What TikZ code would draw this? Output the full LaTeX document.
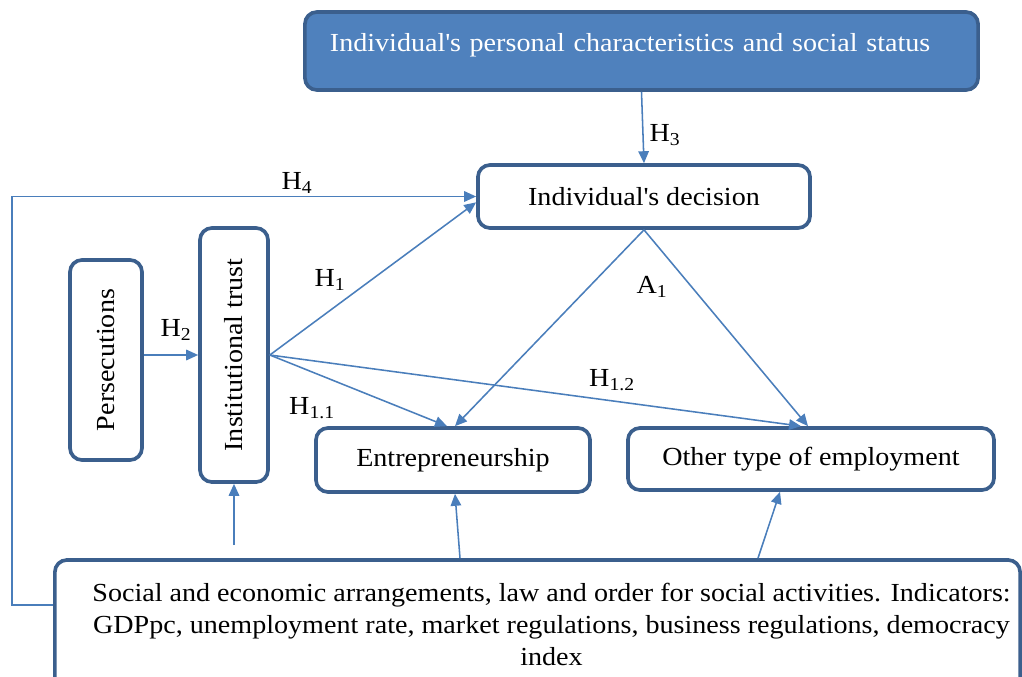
\documentclass[tikz,border=0pt]{standalone}
\usepackage{fontspec}
\setmainfont{Liberation Serif}[FakeStretch=1.08]
\usetikzlibrary{arrows.meta, calc}

\definecolor{boxblue}{HTML}{3B5F8D}
\definecolor{fillblue}{HTML}{4F81BD}
\definecolor{arrowblue}{HTML}{4A7EBB}

\begin{document}
\begin{tikzpicture}[x=0.025cm, y=-0.025cm,
  every node/.style={font=\fontsize{18.5}{22.7}\selectfont},
  box/.style={draw=boxblue, line width=2.6pt, rounded corners=0.3cm, fill=white},
  link/.style={draw=arrowblue, line width=1.1pt, -{Triangle[length=8.5pt,width=7.5pt]}}]
\useasboundingbox (0,0) rectangle (1022,677);
\clip (0,0) rectangle (1022,677);

% boxes
\node[box, fill=fillblue, text=white, minimum width=16.825cm, minimum height=1.95cm,
  text width=15.575cm, align=left, text depth=0.45cm] (status) at (641.5,51)
  {Individual\textquotesingle s personal characteristics and social status};
\node[box, minimum width=8.3cm, minimum height=1.575cm] (decision) at (644,196.5) {Individual\textquotesingle s decision};
\node[box, minimum width=1.8cm, minimum height=5cm,
  label={[rotate=90]center:Persecutions}] (persec) at (106,360) {};
\node[box, minimum width=1.7cm, minimum height=6.35cm,
  label={[rotate=90]center:Institutional trust}] (trust) at (234,355) {};
\node[box, minimum width=6.85cm, minimum height=1.6cm] (entre) at (453,460) {Entrepreneurship};
\node[box, minimum width=9.15cm, minimum height=1.55cm] (other) at (811,459) {Other type of employment};
\node[box, minimum width=24.125cm, minimum height=3.5cm, align=center, text depth=0.3cm] (society) at (537.5,630)
  {\hspace*{0.7cm}Social and economic arrangements, law and order for social activities. Indicators:\\
   \hspace*{0.7cm}GDPpc, unemployment rate, market regulations, business regulations, democracy\\
   \hspace*{0.7cm}index};

% arrows
\coordinate (corner) at (12,605);
\coordinate (base) at (234,545);
\draw[link] (status.south) -- (decision.north);
\draw[link] (corner -| society.west) -- (corner) |- (decision.west);
\draw[link] (persec.east |- trust.west) -- (trust.west);
\draw[link] (trust.east) -- (decision.182);
\draw[link] (trust.east) -- ($(entre.north)+(-6,0)$);
\draw[link] (trust.east) -- ($(other.north)+(-10,0)$);
\draw[link] (decision.south) -- ($(entre.north)+(2,0)$);
\draw[link] (decision.south) -- ($(other.north)+(-3,0)$);
\draw[link] (base) -- (trust.south);
\draw[link] ($(society.north)+(-77.5,0)$) -- ($(entre.south)+(2,0)$);
\draw[link] ($(society.north)+(220.5,0)$) -- ($(other.south)+(-31,0)$);

% hypothesis labels
\node (h3) at (665,135) {H\textsubscript{3}};
\node (h4) at (297,183) {H\textsubscript{4}};
\node (h1) at (330,280) {H\textsubscript{1}};
\node (h2) at (176,330) {H\textsubscript{2}};
\node (h11) at (312,408) {H\textsubscript{1.1}};
\node (h12) at (612,380) {H\textsubscript{1.2}};
\node (a1) at (652,287) {A\textsubscript{1}};
\end{tikzpicture}
\end{document}
